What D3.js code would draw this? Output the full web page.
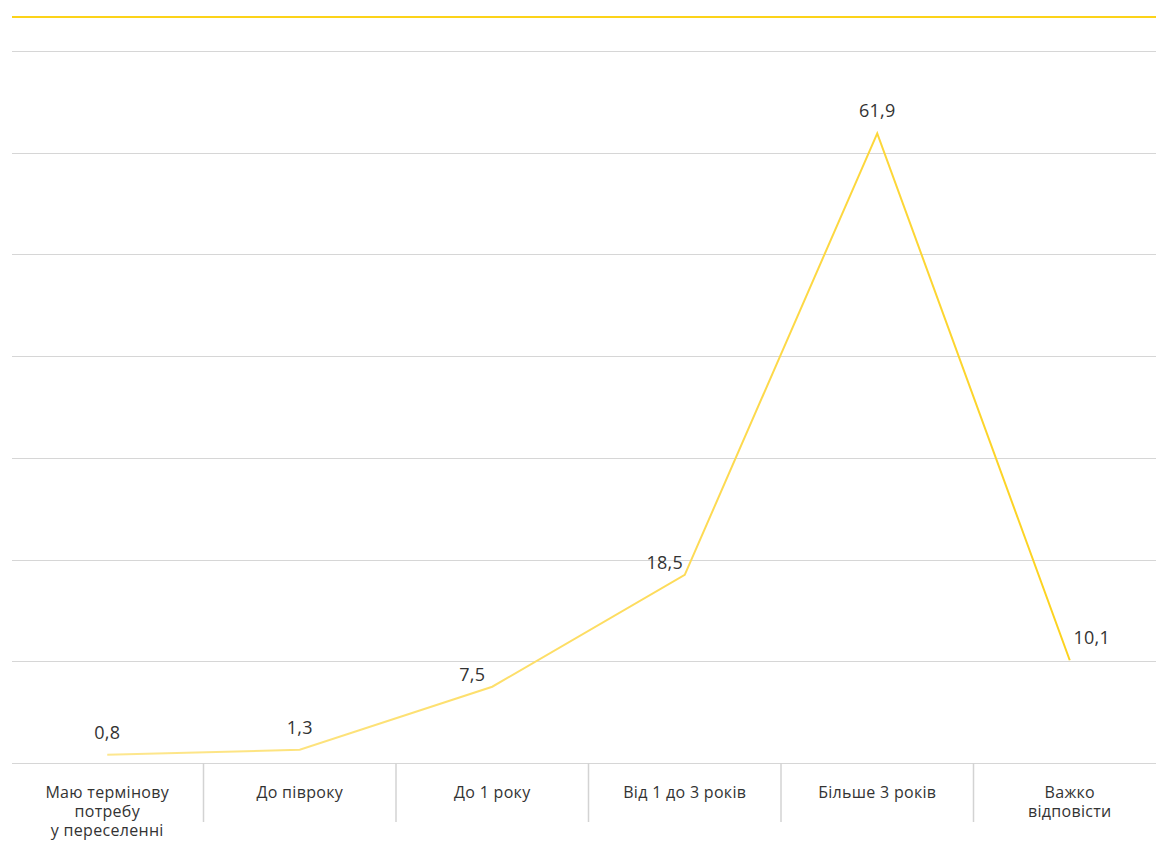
<!DOCTYPE html>
<html><head><meta charset="utf-8">
<script src="https://cdn.jsdelivr.net/npm/d3@7/dist/d3.min.js"></script>
<style>
html,body{margin:0;padding:0;background:#fff;overflow:hidden;}
svg{display:block;font-family:"Open Sans",sans-serif;}
</style></head>
<body><svg id="c" width="1156" height="853"></svg>
<script>
const categories = [
  ["Маю термінову","потребу","у переселенні"],
  ["До півроку"],
  ["До 1 року"],
  ["Від 1 до 3 років"],
  ["Більше 3 років"],
  ["Важко","відповісти"]
];
const values = [0.8, 1.3, 7.5, 18.5, 61.9, 10.1];
const valueLabels = ["0,8","1,3","7,5","18,5","61,9","10,1"];
const yTicks = [0,10,20,30,40,50,60,70];

(function(){
const svg = d3.select("#c");
const mLeft = 11, mRight = 1166, mTop = 51, mBottom = 763;
const x = d3.scaleBand().domain(d3.range(categories.length)).range([mLeft, mRight]);
const y = d3.scaleLinear().domain([0,70]).range([mBottom, mTop]);

// top accent line
svg.append("line").attr("x1",12).attr("x2",1156).attr("y1",17).attr("y2",17)
  .attr("stroke","#fcd319").attr("stroke-width",2);

// gridlines
svg.append("g").selectAll("line").data(yTicks).join("line")
  .attr("x1",12).attr("x2",1156)
  .attr("y1",d=>Math.round(y(d))+0.5).attr("y2",d=>Math.round(y(d))+0.5)
  .attr("stroke","#d6d6d6").attr("stroke-width",1);

// category dividers
svg.append("g").selectAll("line").data(d3.range(1,categories.length)).join("line")
  .attr("x1",d=>x(d)).attr("x2",d=>x(d)).attr("y1",mBottom).attr("y2",822)
  .attr("stroke","#d3d3d3").attr("stroke-width",1.5);

// category labels (one text per line)
const cg = svg.append("g").selectAll("g").data(categories).join("g");
cg.each(function(lines,i){
  d3.select(this).selectAll("text").data(lines).join("text")
    .attr("x",x(i)+x.bandwidth()/2)
    .attr("y",(d,j)=>798+j*19)
    .attr("text-anchor","middle").attr("fill","#333").attr("font-size",16)
    .attr("letter-spacing",0.3)
    .text(d=>d);
});

// gradient for line
const defs = svg.append("defs");
const grad = defs.append("linearGradient").attr("id","lg")
  .attr("gradientUnits","userSpaceOnUse").attr("x1",100).attr("x2",1080).attr("y1",0).attr("y2",0);
grad.append("stop").attr("offset","0%").attr("stop-color","#fde790");
grad.append("stop").attr("offset","55%").attr("stop-color","#fddc5e");
grad.append("stop").attr("offset","100%").attr("stop-color","#fcd21c");

const cx = i => x(i)+x.bandwidth()/2;
const line = d3.line().x((d,i)=>cx(i)).y(d=>y(d));
svg.append("path").datum(values).attr("d",line)
  .attr("fill","none").attr("stroke","url(#lg)").attr("stroke-width",2).attr("stroke-linejoin","miter");

// value labels: shift away from steep adjoining segments
const shift = values.map((d,i)=>{
  const next = i<values.length-1 ? values[i+1]-d : 0;
  const prev = i>0 ? values[i-1]-d : 0;
  if (next > 10 && prev <= 0) return -20;
  if (prev > 20 && i===values.length-1) return 22;
  return 0;
});
svg.append("g").selectAll("text").data(values).join("text")
  .attr("x",(d,i)=>cx(i)+shift[i])
  .attr("y",(d,i)=>y(d)-(shift[i]<0 ? 6 : 16))
  .attr("text-anchor","middle").attr("fill","#333").attr("font-size",18)
  .attr("letter-spacing",0.3)
  .text((d,i)=>valueLabels[i]);
})();
</script></body></html>
